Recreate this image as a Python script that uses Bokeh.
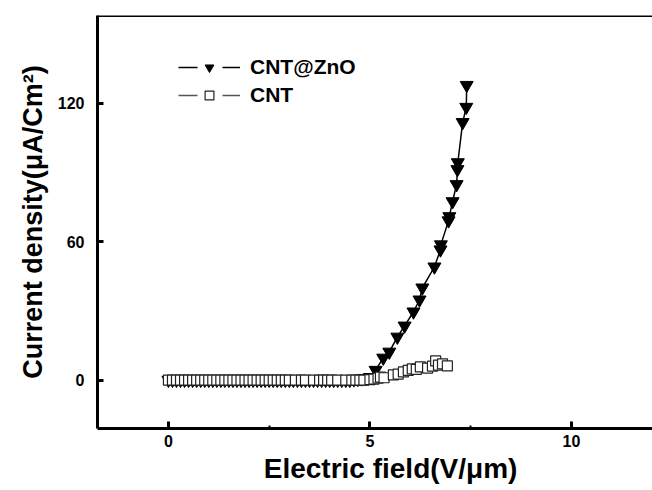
from bokeh.plotting import figure
from bokeh.models import Range1d, Span, Legend, LegendItem, FixedTicker
from bokeh.embed import file_html
from bokeh.resources import INLINE

# CNT@ZnO (inverted triangles)
zno_x = [0.0, 0.1, 0.2, 0.3, 0.4, 0.5, 0.6, 0.7, 0.8, 0.9, 1.0, 1.1, 1.2, 1.3, 1.4,
         1.5, 1.6, 1.7, 1.8, 1.9, 2.0, 2.1, 2.2, 2.3, 2.4, 2.5, 2.6, 2.7, 2.8, 2.9,
         3.0, 3.1, 3.2, 3.3, 3.4, 3.5, 3.6, 3.7, 3.8, 3.9, 4.0, 4.1, 4.2, 4.3, 4.4,
         4.5, 4.6, 4.7, 4.8, 4.9, 5.0,
         5.14, 5.33, 5.48, 5.68, 5.86, 6.08, 6.23, 6.30, 6.60, 6.75, 6.76, 6.95,
         6.97, 7.05, 7.15, 7.17, 7.18, 7.30, 7.39, 7.40]
zno_y = [0.0, 0.0, 0.0, 0.0, 0.0, 0.0, 0.0, 0.0, 0.0, 0.0, 0.0, 0.0, 0.0, 0.0, 0.0,
         0.0, 0.0, 0.0, 0.0, 0.0, 0.0, 0.0, 0.0, 0.0, 0.0, 0.0, 0.0, 0.0, 0.0, 0.0,
         0.0, 0.0, 0.0, 0.0, 0.0, 0.0, 0.0, 0.0, 0.0, 0.0, 0.0, 0.0, 0.0, 0.0, 0.0,
         0.0, 0.2, 0.4, 0.6, 0.8, 1.2,
         4.3, 9.6, 12.2, 18.7, 23.5, 29.6, 34.8, 40.0, 49.1, 56.5, 58.7, 69.1,
         70.9, 77.4, 84.8, 91.3, 94.3, 111.7, 118.3, 127.8]

# CNT (open squares)
cnt_x = [0.0, 0.1, 0.2, 0.3, 0.4, 0.5, 0.6, 0.7, 0.8, 0.9, 1.0, 1.1, 1.2, 1.3, 1.4,
         1.5, 1.6, 1.7, 1.8, 1.9, 2.0, 2.1, 2.2, 2.3, 2.4, 2.5, 2.6, 2.7, 2.8, 2.9,
         3.0, 3.15, 3.3, 3.4, 3.6, 3.75, 3.85, 3.95, 4.05, 4.2, 4.4, 4.55, 4.65,
         4.75, 4.85, 5.0, 5.1, 5.2, 5.26, 5.35, 5.58, 5.7, 5.83, 5.95, 6.05, 6.15,
         6.25, 6.43, 6.55, 6.63, 6.70, 6.80, 6.92]
cnt_y = [0.0, 0.0, 0.0, 0.0, 0.0, 0.0, 0.0, 0.0, 0.0, 0.0, 0.0, 0.0, 0.0, 0.0, 0.0,
         0.0, 0.0, 0.0, 0.0, 0.0, 0.0, 0.0, 0.0, 0.0, 0.0, 0.0, 0.0, 0.0, 0.0, 0.0,
         0.0, 0.0, 0.0, 0.0, 0.0, 0.0, 0.0, 0.0, 0.0, 0.0, 0.0, 0.0, 0.0,
         0.0, 0.0, 0.2, 0.4, 0.8, 1.3, 1.0, 2.2, 2.6, 3.5, 4.2, 4.8, 4.6,
         5.7, 5.2, 6.0, 8.3, 6.5, 7.0, 6.1]

x_ticks = [0, 5, 10]
x_minor = [2.5, 7.5]
y_ticks = [0, 60, 120]

FONT = "Liberation Sans"
NAN = [float("nan")]

p = figure(width=652, height=490, output_backend="svg", toolbar_location=None,
           x_range=Range1d(-1.76, 12.01), y_range=Range1d(-21, 158),
           min_border_left=97, min_border_right=0, min_border_top=15, min_border_bottom=62)
p.outline_line_color = None
p.xgrid.visible = False
p.ygrid.visible = False
p.background_fill_color = "white"

p.line(zno_x, zno_y, line_color="black", line_width=1.5)
p.scatter(zno_x, zno_y, marker="inverted_triangle", size=13,
          fill_color="black", line_color="black")
p.line(cnt_x, cnt_y, line_color="#555555", line_width=1.2)
p.scatter(cnt_x, cnt_y, marker="square", size=10,
          fill_color="white", line_color="#222222", line_width=1.2)

# legend-only glyphs (line with gaps around the marker, as in the reference)
lg1l = p.line(NAN, NAN, line_color="black", line_width=1.3, line_dash="19 25 18")
lg1m = p.scatter(NAN, NAN, marker="inverted_triangle", size=11,
                 fill_color="black", line_color="black")
lg2l = p.line(NAN, NAN, line_color="#555555", line_width=1.3, line_dash="19 25 18")
lg2m = p.scatter(NAN, NAN, marker="square", size=8,
                 fill_color="white", line_color="#222222", line_width=1.2)

top = Span(location=158, dimension="width", line_color="black", line_width=3)
p.add_layout(top)

for ax in (p.xaxis, p.yaxis):
    ax.axis_line_width = 3
    ax.axis_line_color = "black"
    ax.major_tick_line_width = 3
    ax.minor_tick_line_width = 2
    ax.major_tick_out = 0
    ax.minor_tick_out = 0
    ax.major_label_text_font = FONT
    ax.major_label_text_font_style = "bold"
    ax.major_label_text_font_size = "16px"
    ax.major_label_text_color = "black"
    ax.axis_label_text_font = FONT
    ax.axis_label_text_font_style = "bold"
    ax.axis_label_text_font_size = "28px"
    ax.axis_label_text_color = "black"

p.xaxis.ticker = FixedTicker(ticks=x_ticks, minor_ticks=x_minor)
p.yaxis.ticker = FixedTicker(ticks=y_ticks, minor_ticks=[])
p.xaxis.major_tick_in = 7
p.xaxis.minor_tick_in = 3
p.yaxis.major_tick_in = 6
p.xaxis.major_label_standoff = 6
p.yaxis.major_label_standoff = 13
p.xaxis.axis_label = "\u00a0\u00a0\u00a0\u00a0Electric field(V/\u03bcm)"
p.yaxis.axis_label = "Current density(\u03bcA/Cm\u00b2)"
p.xaxis.axis_label_standoff = 3
p.yaxis.axis_label_standoff = 7
p.yaxis.axis_label_text_font_size = "27px"

legend = Legend(items=[LegendItem(label="CNT@ZnO", renderers=[lg1l, lg1m]),
                       LegendItem(label="CNT", renderers=[lg2l, lg2m])],
                location=(81, 321), orientation="vertical")
legend.border_line_color = None
legend.background_fill_alpha = 0
legend.padding = 0
legend.margin = 0
legend.spacing = 4
legend.glyph_width = 62
legend.glyph_height = 22
legend.label_height = 22
legend.label_standoff = 10
legend.label_text_font = FONT
legend.label_text_font_style = "bold"
legend.label_text_font_size = "21px"
legend.label_text_color = "black"
p.add_layout(legend)

open("out.html", "w").write(file_html(p, INLINE))
